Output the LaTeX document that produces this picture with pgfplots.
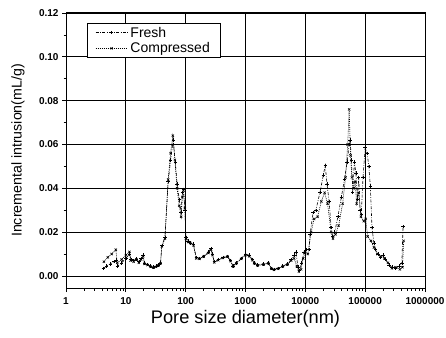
\documentclass[border=0pt]{standalone}
\usepackage{pgfplots}
\pgfplotsset{compat=1.18}
\usepackage{fontspec}
\setmainfont{Liberation Sans}
\begin{document}
\begin{tikzpicture}
\begin{axis}[
  name=ax,
  scale only axis,
  width=359pt, height=275pt,
  xmode=log, xmin=1, xmax=1000000,
  ymin=-0.0055, ymax=0.12,
  xtick={1,10,100,1000,10000,100000,1000000},
  xticklabels={1,10,100,1000,10000,100000,1000000},
  ytick={0,0.02,0.04,0.06,0.08,0.10,0.12},
  yticklabels={0.00,0.02,0.04,0.06,0.08,0.10,0.12},
  minor y tick num=1,
  grid=major,
  major grid style={black, line width=0.7pt},
  axis line style={black, line width=1pt},
  tick style={black, line width=0.7pt},
  major tick length=4pt, minor tick length=2.5pt,
  xtick pos=bottom, ytick pos=left,
  tick align=outside,
  x tick label style={font=\fontsize{10}{11}\selectfont\bfseries, yshift=-2pt},
  y tick label style={font=\fontsize{10}{11}\selectfont\bfseries},
  xlabel={Pore size diameter(nm)},
  ylabel={Incremental intrusion(mL/g)},
  xlabel style={font=\fontsize{18.2}{20}\selectfont, at={(axis description cs:0.5,-0.112)}, anchor=center},
  ylabel style={font=\fontsize{14.2}{17}\selectfont, at={(axis description cs:-0.134,0.5)}, anchor=center},
  legend style={at={(0.0585,0.9636)}, anchor=north west, draw=black, font=\fontsize{14}{16}\selectfont, inner xsep=8pt, inner ysep=1.5pt, row sep=0pt, line width=0.7pt, nodes={inner xsep=2.5pt}},
  legend image code/.code={\draw[mark repeat=2,mark phase=2,#1] plot coordinates {(0pt,0pt) (16pt,0pt) (32pt,0pt)};},
  legend cell align=left,
]
\addplot[black, line width=0.6pt, dash pattern=on 3pt off 1.5pt on 0.8pt off 1.5pt, mark=+, mark size=1.7pt, mark options={solid}] coordinates {
(4.2,0.0035)(4.8,0.0045)(5.5,0.0055)(6.3,0.0065)(7.0,0.0072)(7.3,0.0045)(8.5,0.0060)(10,0.0080)(11.5,0.0100)
(12.2,0.0075)(13.5,0.0070)(15,0.0078)(16.5,0.0065)(18,0.0080)(19.5,0.0095)(20.5,0.0060)(23,0.0052)(26,0.0045)
(29,0.0040)(32,0.0045)(35,0.0050)(38,0.0060)(40,0.0140)(45,0.0175)(51,0.0430)(56,0.0530)(62,0.0620)(67,0.0520)
(72,0.0420)(78,0.0350)(84,0.0290)(88,0.0380)(92,0.0395)(97,0.0300)(101,0.0175)(110,0.0160)(120,0.0150)(135,0.0145)
(150,0.0085)(170,0.0080)(200,0.0090)(240,0.0110)(265,0.0125)(280,0.0100)(300,0.0065)(350,0.0075)(420,0.0085)
(500,0.0090)(560,0.0070)(620,0.0045)(700,0.0060)(850,0.0080)(1000,0.0100)(1150,0.0095)(1300,0.0075)(1400,0.0060)
(1600,0.0050)(2000,0.0055)(2400,0.0060)(2700,0.0035)(3000,0.0030)(3500,0.0035)(4200,0.0045)(5000,0.0055)
(5800,0.0075)(6500,0.0095)(7000,0.0110)(7500,0.0040)(8000,0.0025)(8700,0.0060)(9500,0.0110)(10500,0.0120)
(11500,0.0120)(12000,0.0190)(13500,0.0290)(15000,0.0300)(17500,0.0380)(20000,0.0460)(21500,0.0505)(23000,0.0420)
(25000,0.0340)(27000,0.0220)(28500,0.0180)(31000,0.0200)(35000,0.0270)(40000,0.0360)(45000,0.0440)(50000,0.0520)
(54000,0.0600)(56000,0.0620)(59000,0.0530)(62000,0.0380)(66000,0.0520)(70000,0.0470)(74000,0.0350)(78000,0.0450)
(82000,0.0300)(86000,0.0280)(92000,0.0450)(100000,0.0585)(108000,0.0560)(115000,0.0500)(122000,0.0410)
(130000,0.0220)(140000,0.0150)(150000,0.0120)(165000,0.0100)(180000,0.0085)(200000,0.0095)(220000,0.0075)
(250000,0.0050)(280000,0.0040)(320000,0.0035)(370000,0.0045)(410000,0.0060)(430000,0.0225)
};
\addlegendentry{Fresh}
\addplot[black, line width=0.6pt, dash pattern=on 1pt off 1pt, mark=x, mark size=1.6pt, mark options={solid}] coordinates {
(4.3,0.0065)(5.0,0.0085)(5.8,0.0100)(6.8,0.0120)(7.2,0.0060)(8.5,0.0075)(10,0.0095)(11.5,0.0110)(12,0.0070)
(13.5,0.0065)(15,0.0075)(16.5,0.0060)(18,0.0075)(19.5,0.0090)(20.5,0.0055)(23,0.0050)(26,0.0042)(29,0.0038)
(32,0.0042)(35,0.0048)(38,0.0058)(40,0.0135)(45,0.0170)(51,0.0440)(56,0.0560)(61,0.0640)(66,0.0530)(72,0.0400)
(78,0.0320)(84,0.0270)(88,0.0360)(92,0.0390)(97,0.0310)(101,0.0170)(110,0.0155)(120,0.0150)(135,0.0140)
(150,0.0080)(170,0.0078)(200,0.0088)(240,0.0105)(265,0.0120)(280,0.0095)(300,0.0062)(350,0.0072)(420,0.0082)
(500,0.0088)(560,0.0068)(620,0.0043)(700,0.0058)(850,0.0078)(1000,0.0095)(1150,0.0090)(1300,0.0072)(1400,0.0058)
(1600,0.0048)(2000,0.0052)(2400,0.0058)(2700,0.0033)(3000,0.0028)(3500,0.0033)(4200,0.0043)(5000,0.0052)
(5800,0.0070)(6500,0.0080)(7200,0.0045)(7800,0.0020)(8500,0.0030)(9200,0.0080)(10000,0.0110)(11000,0.0100)
(12500,0.0200)(14000,0.0260)(16000,0.0270)(18500,0.0340)(21000,0.0380)(23500,0.0330)(27000,0.0200)(29000,0.0170)
(32000,0.0190)(36000,0.0230)(42000,0.0330)(47000,0.0450)(51000,0.0600)(54000,0.0760)(57000,0.0550)(60000,0.0450)
(64000,0.0400)(68000,0.0430)(72000,0.0330)(78000,0.0380)(85000,0.0270)(95000,0.0250)(102000,0.0260)(110000,0.0180)
(125000,0.0160)(140000,0.0130)(160000,0.0100)(180000,0.0090)(210000,0.0080)(240000,0.0060)(280000,0.0035)
(320000,0.0040)(380000,0.0030)(420000,0.0040)(440000,0.0160)
};
\addlegendentry{Compressed}
\end{axis}
\pgfresetboundingbox
\path ([xshift=-66pt,yshift=-49pt]ax.south west) rectangle ([xshift=21pt,yshift=13pt]ax.north east);
\end{tikzpicture}
\end{document}
